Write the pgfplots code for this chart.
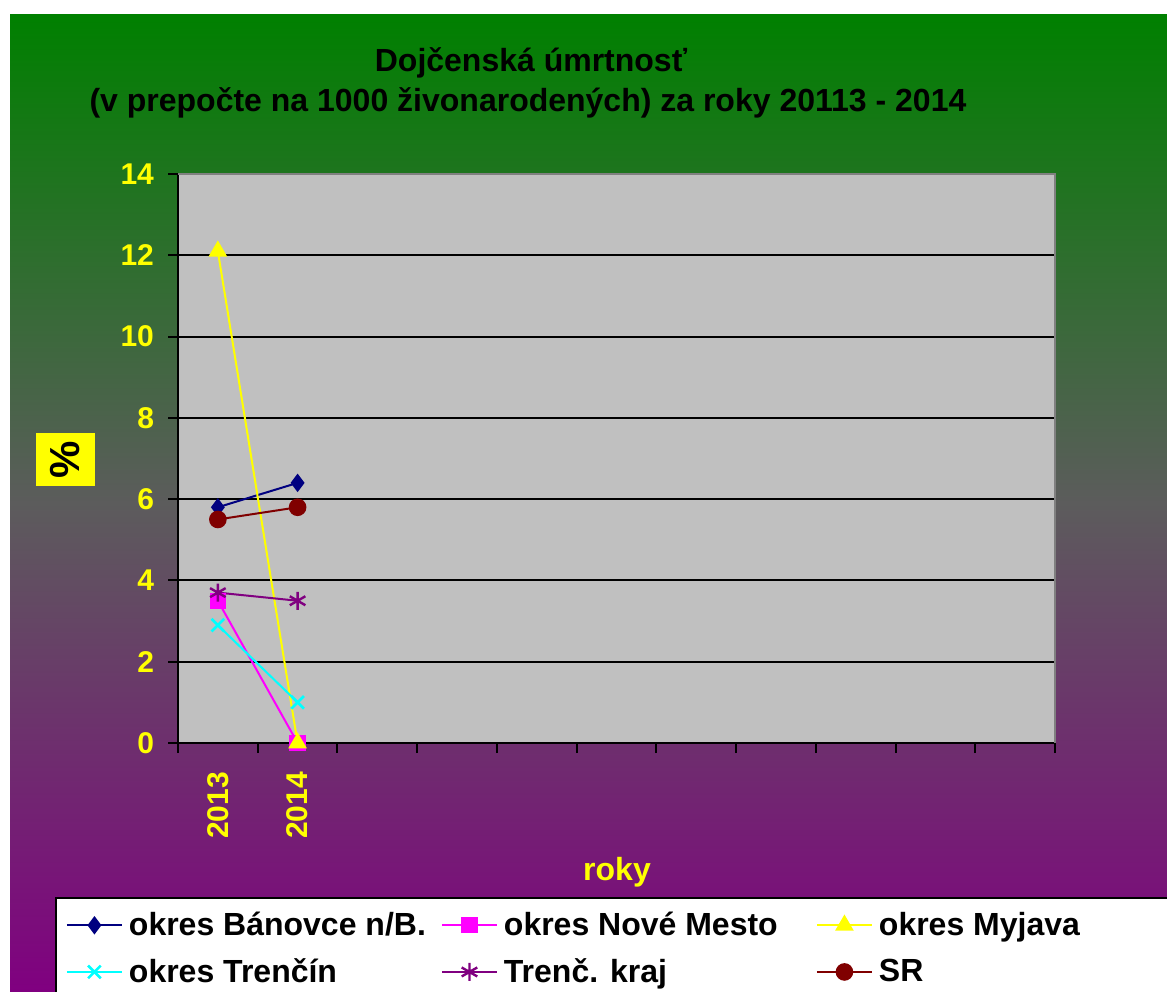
\documentclass[border=0pt]{standalone}
\usepackage{pgfplots}
\pgfplotsset{compat=1.18}
\usepackage{fontspec}
\setmainfont{Liberation Sans}
\definecolor{bggreen}{RGB}{0,128,0}
\definecolor{bgmid}{RGB}{92,92,92}
\definecolor{bgpurple}{RGB}{128,0,128}
\definecolor{plotgray}{RGB}{192,192,192}
\definecolor{edgegray}{RGB}{128,128,128}
\definecolor{cnavy}{RGB}{0,0,128}
\definecolor{cmag}{RGB}{255,0,255}
\definecolor{cyel}{RGB}{255,255,0}
\definecolor{ccyan}{RGB}{0,255,255}
\definecolor{cpurp}{RGB}{128,0,128}
\definecolor{cdred}{RGB}{128,0,0}
\begin{document}
\begin{tikzpicture}[x=0.5pt,y=0.5pt]
\useasboundingbox (0,0) rectangle (1167,991);
\clip (0,0) rectangle (1167,991);
\fill[white] (0,0) rectangle (1167,991);
\shade[top color=bggreen, bottom color=bgpurple, middle color=bgmid] (10,0) rectangle (1167,976);
\begin{axis}[
  at={(89pt,124pt)}, anchor=south west, scale only axis,
  width=438.5pt, height=284.5pt,
  xmin=0, xmax=11, ymin=0, ymax=14,
  axis x line*=bottom, axis y line*=left,
  axis line style={black, line width=1pt, -},
  axis background/.style={fill=plotgray},
  xtick={0,...,11}, xticklabels={},
  ytick={0,2,...,14},
  tick align=outside, major tick length=5pt,
  tick style={black, line width=1pt},
  ymajorgrids, grid style={black, line width=1pt},
  extra x ticks={0.5,1.5}, extra x tick labels={2013,2014},
  extra x tick style={major tick length=0pt, grid=none,
     xticklabel style={rotate=90, anchor=east, xshift=-11pt}},
  ticklabel style={font=\fontsize{15}{18}\selectfont\bfseries, text=cyel},
  yticklabel style={xshift=-3.5pt},
  /pgf/number format/assume math mode=true,
  clip=false,
  legend columns=3,
  legend style={at={(-0.1403,-0.2707)}, anchor=north west, draw=black, line width=1pt,
     fill=white, font=\fontsize{16}{19}\selectfont\bfseries, inner xsep=5pt, inner ysep=5pt,
     nodes={inner xsep=3pt}, column sep=0pt, row sep=6pt},
  legend cell align=left,
  legend image code/.code={\draw[mark repeat=2,mark phase=2] plot coordinates {(0pt,0pt) (13.75pt,0pt) (27.5pt,0pt)};},
]
\addplot[color=cnavy, line width=1pt, mark=diamond*, mark size=3.8pt, mark options={solid}] coordinates {(0.5,5.8) (1.5,6.4)};
\addplot[color=cmag, line width=1pt, mark=square*, mark size=3.6pt] coordinates {(0.5,3.5) (1.5,0)};
\addplot[color=cyel, line width=1pt, mark=triangle*, mark size=4.4pt] coordinates {(0.5,12.1) (1.5,0)};
\addplot[color=ccyan, line width=1pt, mark=x, mark size=4.5pt, mark options={line width=1.3pt}] coordinates {(0.5,2.9) (1.5,1.0)};
\addplot[color=cpurp, line width=1pt, mark=asterisk, mark size=4.5pt, mark options={line width=1.2pt}] coordinates {(0.5,3.7) (1.5,3.5)};
\addplot[color=cdred, line width=1pt, mark=*, mark size=3.9pt] coordinates {(0.5,5.5) (1.5,5.8)};
\legend{\makebox[153pt][l]{okres Bánovce n/B.},\makebox[153pt][l]{okres Nové Mesto},\makebox[300pt][l]{okres Myjava},\makebox[153pt][l]{okres Trenčín},\makebox[153pt][l]{Trenč. kraj},\makebox[300pt][l]{SR}}
\draw[edgegray, line width=1pt] (rel axis cs:0,1) -- (rel axis cs:1,1) -- (rel axis cs:1,0);
\end{axis}
\node[anchor=base, font=\fontsize{16}{20}\selectfont\bfseries] at (531,919) {Dojčenská úmrtnosť};
\node[anchor=base, font=\fontsize{16}{20}\selectfont\bfseries] at (528,879) {(v prepočte na 1000 živonarodených) za roky 20113 - 2014};
\node[anchor=base, font=\fontsize{16}{20}\selectfont\bfseries, text=cyel] at (617,111) {roky};
\node[fill=cyel, rotate=90, inner sep=0pt, minimum width=26.5pt, minimum height=29.5pt, font=\fontsize{21}{24}\selectfont\bfseries] at (65.5,531.5) {\%};
\end{tikzpicture}
\end{document}
